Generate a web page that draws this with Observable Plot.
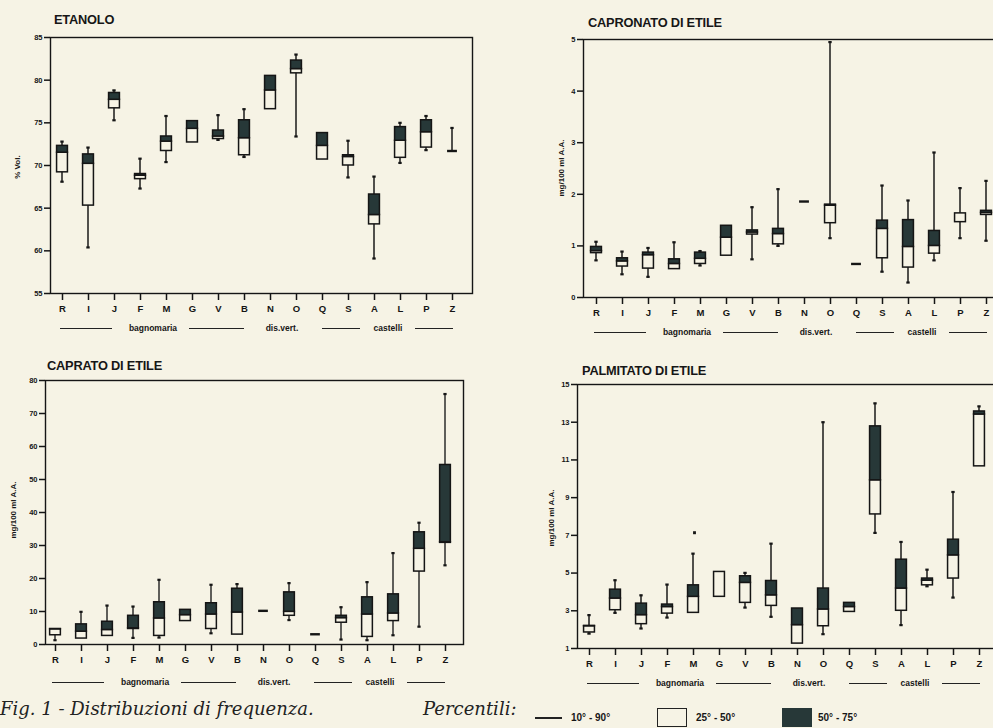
<!DOCTYPE html>
<html>
<head>
<meta charset="utf-8">
<script src="https://cdn.jsdelivr.net/npm/d3@7"></script>
<script src="https://cdn.jsdelivr.net/npm/@observablehq/plot@0.6"></script>
<style>
  html, body { margin: 0; padding: 0; background: #f6f3e5; }
  #root { position: relative; width: 993px; height: 728px; overflow: hidden; background: #f6f3e5;
          font-family: "Liberation Sans", Arial, sans-serif; color: #161616; }
  .abs { position: absolute; white-space: nowrap; }
  .title { font-weight: bold; font-size: 12.8px; line-height: 13px; letter-spacing: -0.2px; }
  .ylab { font-weight: bold; font-size: 8px; line-height: 8px; transform: translate(-50%, -50%) rotate(-90deg); }
  .grp { font-weight: bold; font-size: 8.5px; line-height: 9px; transform: translate(-50%, -50%); }
  .gline { height: 1.3px; background: #222; }
  .cap { font-family: "DejaVu Serif", "Liberation Serif", serif; font-style: italic; font-size: 18px; line-height: 20px; color: #222; }
  .leg { font-weight: bold; font-size: 10px; line-height: 10px; }
  #root svg { position: absolute; overflow: visible; }
  #root svg g[aria-label^="y-axis"] text { font-size: 7.5px; }
  #root svg g[aria-label^="x-axis"] text { font-size: 9.5px; }
  #root svg g[aria-label^="x-axis"] path, #root svg g[aria-label^="x-axis"] line,
  #root svg g[aria-label^="y-axis"] path, #root svg g[aria-label^="y-axis"] line { stroke-width: 1.5px; }
</style>
</head>
<body>
<div id="root"></div>
<script>
// ---- categories and labels ----
const categories = ["R","I","J","F","M","G","V","B","N","O","Q","S","A","L","P","Z"];
const groupNames = ["bagnomaria", "dis.vert.", "castelli"];
const panelTitles = ["ETANOLO", "CAPRONATO DI ETILE", "CAPRATO DI ETILE", "PALMITATO DI ETILE"];
const yLabels = ["% Vol.", "mg/100 ml A.A.", "mg/100 ml A.A.", "mg/100 ml A.A."];
const captionText = "Fig. 1 - Distribuzioni di frequenza.";
const legendTitle = "Percentili:";
const legendLabels = ["10° - 90°", "25° - 50°", "50° - 75°"];

// ---- ETANOLO (% Vol.) percentiles ----
const etanoloTicks = [55, 60, 65, 70, 75, 80, 85];
const etanoloP10 = [68.1, 60.4, 75.3, 67.3, 70.4, 72.7, 73.0, 71.0, 76.6, 73.4, 70.7, 68.6, 59.1, 70.3, 71.8, 71.7];
const etanoloP25 = [69.2, 65.3, 76.7, 68.4, 71.7, 72.7, 73.1, 71.2, 76.6, 80.8, 70.7, 70.0, 63.1, 70.9, 72.1, 71.7];
const etanoloP50 = [71.5, 70.2, 77.7, 68.8, 72.8, 74.3, 73.4, 73.2, 78.8, 81.3, 72.3, 71.0, 64.2, 72.9, 73.9, 71.7];
const etanoloP75 = [72.3, 71.3, 78.5, 69.0, 73.4, 75.2, 74.1, 75.3, 80.5, 82.3, 73.8, 71.2, 66.6, 74.5, 75.3, 71.7];
const etanoloP90 = [72.8, 72.1, 78.8, 70.8, 75.8, 75.2, 75.9, 76.6, 80.5, 83.0, 73.8, 72.9, 68.7, 75.0, 75.8, 74.4];

// ---- CAPRONATO DI ETILE ----
const capronatoTicks = [0, 1, 2, 3, 4, 5];
const capronatoP10 = [0.72, 0.45, 0.40, 0.55, 0.62, 0.81, 0.74, 1.00, 1.86, 1.15, 0.65, 0.50, 0.29, 0.72, 1.15, 1.10];
const capronatoP25 = [0.86, 0.60, 0.56, 0.55, 0.65, 0.81, 1.22, 1.03, 1.86, 1.44, 0.65, 0.76, 0.58, 0.85, 1.46, 1.60];
const capronatoP50 = [0.90, 0.70, 0.82, 0.65, 0.75, 1.16, 1.26, 1.23, 1.86, 1.78, 0.65, 1.33, 0.98, 1.00, 1.63, 1.64];
const capronatoP75 = [0.98, 0.76, 0.87, 0.74, 0.87, 1.39, 1.30, 1.33, 1.86, 1.80, 0.65, 1.49, 1.50, 1.29, 1.63, 1.68];
const capronatoP90 = [1.08, 0.89, 0.96, 1.07, 0.90, 1.39, 1.75, 2.10, 1.86, 4.95, 0.65, 2.17, 1.88, 2.81, 2.12, 2.26];

// ---- CAPRATO DI ETILE ----
const capratoTicks = [0, 10, 20, 30, 40, 50, 60, 70, 80];
const capratoP10 = [1.3, 1.8, 2.6, 2.0, 2.1, 7.1, 3.4, 3.0, 10.2, 7.4, 3.1, 1.5, 1.3, 2.8, 5.4, 24.0];
const capratoP25 = [2.8, 1.8, 2.6, 4.7, 2.6, 7.1, 4.7, 3.0, 10.2, 8.7, 3.1, 6.6, 2.3, 7.1, 22.1, 30.8];
const capratoP50 = [4.6, 3.9, 4.4, 4.9, 7.9, 8.9, 9.1, 9.7, 10.2, 9.9, 3.1, 8.0, 9.1, 9.4, 29.0, 31.0];
const capratoP75 = [4.7, 6.1, 6.9, 8.7, 12.8, 10.5, 12.5, 16.9, 10.2, 15.8, 3.1, 8.7, 14.3, 15.2, 34.0, 54.4];
const capratoP90 = [4.7, 9.9, 11.8, 11.5, 19.6, 10.5, 18.1, 18.3, 10.2, 18.6, 3.1, 11.3, 18.9, 27.7, 36.9, 75.9];

// ---- PALMITATO DI ETILE ----
const palmitatoTicks = [1, 3, 5, 7, 9, 11, 13, 15];
const palmitatoP10 = [1.79, 2.89, 2.06, 2.64, 2.89, 3.74, 3.17, 2.68, 1.26, 1.76, 2.94, 7.13, 2.24, 4.30, 3.70, 10.66];
const palmitatoP25 = [1.85, 3.03, 2.29, 2.85, 2.89, 3.74, 3.42, 3.26, 1.26, 2.18, 2.94, 8.11, 3.00, 4.35, 4.71, 10.66];
const palmitatoP50 = [2.18, 3.65, 2.77, 3.20, 3.74, 5.06, 4.48, 3.82, 2.24, 3.07, 3.20, 9.92, 4.18, 4.60, 5.94, 13.41];
const palmitatoP75 = [2.20, 4.12, 3.38, 3.33, 4.35, 5.06, 4.83, 4.58, 3.12, 4.18, 3.42, 12.78, 5.71, 4.71, 6.77, 13.57];
const palmitatoP90 = [2.77, 4.62, 3.82, 4.39, 6.03, 5.06, 5.01, 6.56, 3.12, 13.0, 3.42, 14.0, 6.65, 5.18, 9.30, 13.84];
const palmitatoOutlierCats = ["M"];
const palmitatoOutlierValues = [7.14];

// ---- drawing ----
const INK = "#151515";
const DARK = "#273838";
const PAPER = "#f6f3e5";
const root = document.getElementById("root");

function rowsFrom(p10, p25, p50, p75, p90) {
  return categories.map((c, i) => ({cat: c, p10: p10[i], p25: p25[i], p50: p50[i], p75: p75[i], p90: p90[i]}));
}

function addDiv(cls, text, left, top, extra) {
  const d = document.createElement("div");
  d.className = "abs " + cls;
  if (text != null) d.textContent = text;
  d.style.left = left + "px";
  d.style.top = top + "px";
  if (extra) Object.assign(d.style, extra);
  root.appendChild(d);
  return d;
}

function panel(cfg) {
  const rows = rowsFrom(...cfg.series);
  const step = (cfg.xr[1] - cfg.xr[0]) / categories.length;
  const boxInset = (step - 11) / 2;
  const whInset = (step - 1.6) / 2;
  const capInset = (step - 3.5) / 2;
  const marks = [
    Plot.frame({stroke: INK, strokeWidth: 1.4}),
    Plot.barY(rows.filter(d => d.p90 > d.p10), {x: "cat", y1: "p10", y2: "p90", fill: INK, insetLeft: whInset, insetRight: whInset}),
    Plot.tickY(rows.filter(d => d.p90 > d.p75), {x: "cat", y: "p90", stroke: INK, strokeWidth: 2.2, insetLeft: capInset, insetRight: capInset}),
    Plot.tickY(rows.filter(d => d.p10 < d.p25), {x: "cat", y: "p10", stroke: INK, strokeWidth: 2.2, insetLeft: capInset, insetRight: capInset}),
    Plot.barY(rows.filter(d => d.p50 > d.p25), {x: "cat", y1: "p25", y2: "p50", fill: PAPER, stroke: INK, strokeWidth: 1.5, insetLeft: boxInset, insetRight: boxInset}),
    Plot.barY(rows.filter(d => d.p75 > d.p50), {x: "cat", y1: "p50", y2: "p75", fill: DARK, stroke: INK, strokeWidth: 1.5, insetLeft: boxInset, insetRight: boxInset}),
    Plot.tickY(rows.filter(d => d.p75 === d.p25), {x: "cat", y: "p25", stroke: INK, strokeWidth: 2.4, insetLeft: boxInset + 0.5, insetRight: boxInset + 0.5})
  ];
  if (cfg.outliers) {
    marks.push(Plot.tickY(cfg.outliers, {x: "cat", y: "v", stroke: INK, strokeWidth: 3, insetLeft: (step - 3) / 2 + 1.5, insetRight: (step - 3) / 2 - 1.5}));
  }
  const chart = Plot.plot({
    width: cfg.width, height: cfg.height,
    marginLeft: cfg.ml, marginTop: cfg.mt, marginRight: cfg.mr, marginBottom: cfg.mb,
    style: {background: "transparent", color: INK, fontFamily: "Liberation Sans, Arial, sans-serif", fontSize: "8px", fontWeight: "bold"},
    x: {type: "band", domain: categories, range: cfg.xr, padding: 0, label: null, tickSize: 7, tickPadding: 5},
    y: {domain: cfg.domain, ticks: cfg.ticks, tickFormat: d => String(d), tickSize: 6, tickPadding: 2, label: null},
    marks
  });
  chart.style.left = cfg.left + "px";
  chart.style.top = cfg.top + "px";
  root.appendChild(chart);

  // title and rotated y label
  addDiv("title", cfg.title, cfg.titleX, cfg.titleY);
  addDiv("ylab", cfg.ylabel, cfg.ylabX, cfg.ylabY);

  // group row: line, name, line, name, line, name, line (positions relative to first category)
  const r = cfg.left + cfg.xr[0] + step / 2;
  const lines = [[-1, 51], [128, 183], [261, 299], [354, 392]];
  const centers = [92, 221, 327];
  lines.forEach(([a, b]) => addDiv("gline", null, r + a, cfg.groupY, {width: (b - a) + "px"}));
  groupNames.forEach((g, i) => addDiv("grp", g, r + centers[i], cfg.groupY));
}

panel({
  title: panelTitles[0], ylabel: yLabels[0],
  series: [etanoloP10, etanoloP25, etanoloP50, etanoloP75, etanoloP90],
  domain: [55, 85], ticks: etanoloTicks,
  left: 0, top: 0, width: 496, height: 340, ml: 50, mt: 37, mr: 24, mb: 47, xr: [47.9, 466.1],
  titleX: 54, titleY: 13, ylabX: 18, ylabY: 167, groupY: 328
});
panel({
  title: panelTitles[1], ylabel: yLabels[1],
  series: [capronatoP10, capronatoP25, capronatoP50, capronatoP75, capronatoP90],
  domain: [0, 5], ticks: capronatoTicks,
  left: 500, top: 0, width: 520, height: 340, ml: 83, mt: 39, mr: 12, mb: 43, xr: [81.9, 500.1],
  titleX: 588, titleY: 16, ylabX: 562, ylabY: 168, groupY: 332
});
panel({
  title: panelTitles[2], ylabel: yLabels[2],
  series: [capratoP10, capratoP25, capratoP50, capratoP75, capratoP90],
  domain: [0, 80], ticks: capratoTicks,
  left: 0, top: 340, width: 496, height: 350, ml: 45, mt: 40, mr: 33, mb: 46, xr: [39.9, 460.1],
  titleX: 47, titleY: 359, ylabX: 14, ylabY: 510, groupY: 682
});
panel({
  title: panelTitles[3], ylabel: yLabels[3],
  series: [palmitatoP10, palmitatoP25, palmitatoP50, palmitatoP75, palmitatoP90],
  domain: [1, 15], ticks: palmitatoTicks,
  outliers: palmitatoOutlierCats.map((c, i) => ({cat: c, v: palmitatoOutlierValues[i]})),
  left: 500, top: 340, width: 520, height: 350, ml: 77, mt: 44, mr: 14, mb: 42, xr: [74.9, 493.1],
  titleX: 582, titleY: 364, ylabX: 552, ylabY: 518, groupY: 683
});

// caption and legend
addDiv("cap", captionText, 0, 699);
addDiv("cap", legendTitle, 423, 699);
addDiv("gline", null, 535, 717, {width: "27px", height: "1.5px"});
addDiv("leg", legendLabels[0], 571, 713);
addDiv("", null, 657, 708, {width: "30px", height: "19px", border: "1.2px solid #222", boxSizing: "border-box"});
addDiv("leg", legendLabels[1], 696, 713);
addDiv("", null, 782, 708, {width: "30px", height: "19px", background: DARK});
addDiv("leg", legendLabels[2], 818, 713);
</script>
</body>
</html>
